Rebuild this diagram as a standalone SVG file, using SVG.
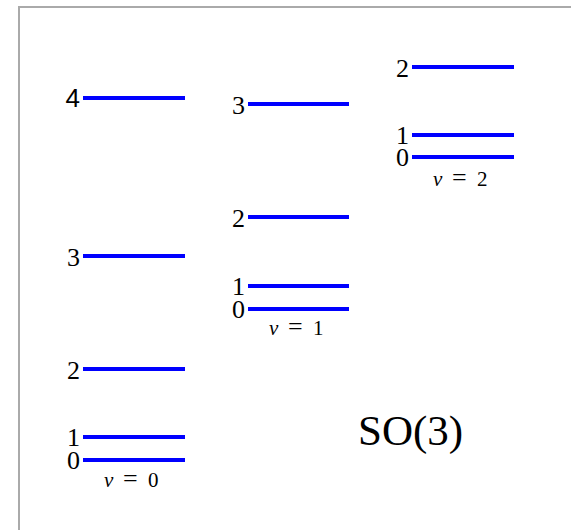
<svg xmlns="http://www.w3.org/2000/svg" width="571" height="530" viewBox="0 0 571 530">
<style>
.frame{stroke:#aaaaaa;stroke-width:2;fill:none}
.lvl{stroke:#0000ff;stroke-width:4}
.lab{font-family:"Liberation Serif","Times New Roman",serif;font-size:26px;fill:#000;text-anchor:end}
.sans{font-family:"Liberation Sans",Arial,sans-serif;font-size:26px}
.v{font-family:"Liberation Serif","Times New Roman",serif;font-size:21px;fill:#000}
.title{font-family:"Liberation Serif","Times New Roman",serif;font-size:43px;fill:#000}
</style>
<rect width="571" height="530" fill="#fff"/>
<path class="frame" d="M19,530 V7 H571"/>
<g id="v0">
<line class="lvl" x1="83" y1="98" x2="185" y2="98"/><text class="lab sans" x="80" y="107">4</text>
<line class="lvl" x1="83" y1="256" x2="185" y2="256"/><text class="lab" x="80" y="266">3</text>
<line class="lvl" x1="83" y1="369" x2="185" y2="369"/><text class="lab" x="80" y="379">2</text>
<line class="lvl" x1="83" y1="437" x2="185" y2="437"/><text class="lab" x="80" y="446">1</text>
<line class="lvl" x1="83" y1="460" x2="185" y2="460"/><text class="lab" x="80" y="469">0</text>
<text class="v" y="487"><tspan x="104" font-style="italic">v</tspan><tspan x="123" font-size="26">=</tspan><tspan x="148">0</tspan></text>
</g>
<g id="v1">
<line class="lvl" x1="248" y1="104" x2="349" y2="104"/><text class="lab" x="245" y="114">3</text>
<line class="lvl" x1="248" y1="217" x2="349" y2="217"/><text class="lab" x="245" y="227">2</text>
<line class="lvl" x1="248" y1="286" x2="349" y2="286"/><text class="lab" x="245" y="295">1</text>
<line class="lvl" x1="248" y1="309" x2="349" y2="309"/><text class="lab" x="245" y="318">0</text>
<text class="v" y="335"><tspan x="269" font-style="italic">v</tspan><tspan x="288" font-size="26">=</tspan><tspan x="313">1</tspan></text>
</g>
<g id="v2">
<line class="lvl" x1="412" y1="67" x2="514" y2="67"/><text class="lab" x="409" y="77">2</text>
<line class="lvl" x1="412" y1="135" x2="514" y2="135"/><text class="lab" x="409" y="144">1</text>
<line class="lvl" x1="412" y1="157" x2="514" y2="157"/><text class="lab" x="409" y="166">0</text>
<text class="v" y="186"><tspan x="433" font-style="italic">v</tspan><tspan x="452" font-size="26">=</tspan><tspan x="477">2</tspan></text>
</g>
<text id="title" class="title" x="358" y="445">SO(3)</text>
</svg>
